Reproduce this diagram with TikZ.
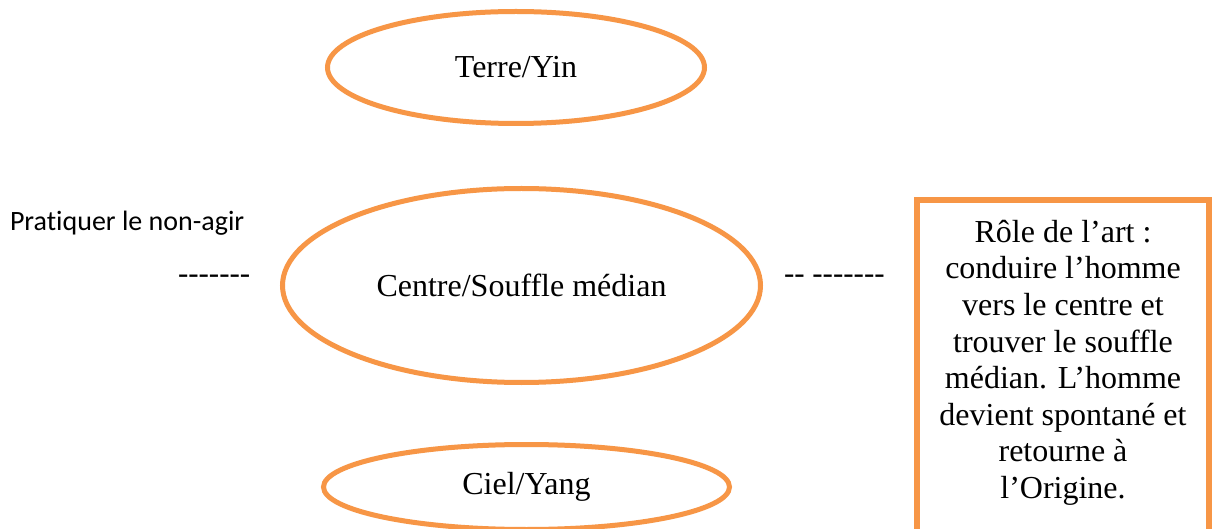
\documentclass[tikz,border=0pt]{standalone}
\usepackage{fontspec}
\setmainfont{Liberation Serif}[Ligatures=NoCommon]
\newfontfamily\carlito{Carlito}[Ligatures=NoCommon]
\usetikzlibrary{shapes.geometric}
\definecolor{accorange}{HTML}{F79646}
\newcommand{\hy}{-\kern0pt}
\tikzset{
  ellnode/.style={ellipse, draw=accorange, line width=5pt, inner sep=0pt, outer sep=0pt,
    font=\fontsize{32}{36.6}\selectfont},
  boxnode/.style={rectangle, draw=accorange, line width=6pt, inner sep=0pt, outer sep=0pt},
  boxtext/.style={align=center, inner sep=0pt, outer sep=0pt,
    font=\fontsize{32}{36.6}\selectfont},
  dashtext/.style={inner sep=0pt, outer sep=0pt, font=\fontsize{31}{35}\selectfont},
  sidelabel/.style={inner sep=0pt, outer sep=0pt, font=\carlito\fontsize{28}{33}\selectfont}
}
\begin{document}
\begin{tikzpicture}[x=1pt,y=1pt]
\useasboundingbox (0,0) rectangle (1218,528);
\clip (0,0) rectangle (1218,528);
\fill[white] (0,0) rectangle (1218,528);
\node[ellnode, minimum width=377pt, minimum height=112pt] (terre) at (516,460.5) {Terre/Yin};
\node[ellnode, minimum width=478pt, minimum height=194pt] (centre) at (521.5,242.5) {Centre/Souffle médian};
\node[ellnode, minimum width=406pt, minimum height=85pt] (ciel) at (526.5,41) {Ciel/Yang};
\node[sidelabel, anchor=base west] (nonagir) at (10,297) {Pratiquer le non\hy agir};
\node[dashtext, anchor=base west] (dashl) at (178,244) {\hy\hy\hy\hy\hy\hy\hy};
\node[dashtext, anchor=base west] (dashr) at (784,244) {\hy\hy{} \hy\hy\hy\hy\hy\hy\hy};
\node[boxnode, minimum width=292pt, minimum height=420pt, anchor=north] (role) at (1063,327.5) {};
\node[boxtext, anchor=north] (roletext) at (1063,308) {Rôle de l’art :\\conduire l’homme\\vers le centre et\\trouver le souffle\\médian. L’homme\\devient spontané et\\retourne à\\l’Origine.};
\end{tikzpicture}
\end{document}
